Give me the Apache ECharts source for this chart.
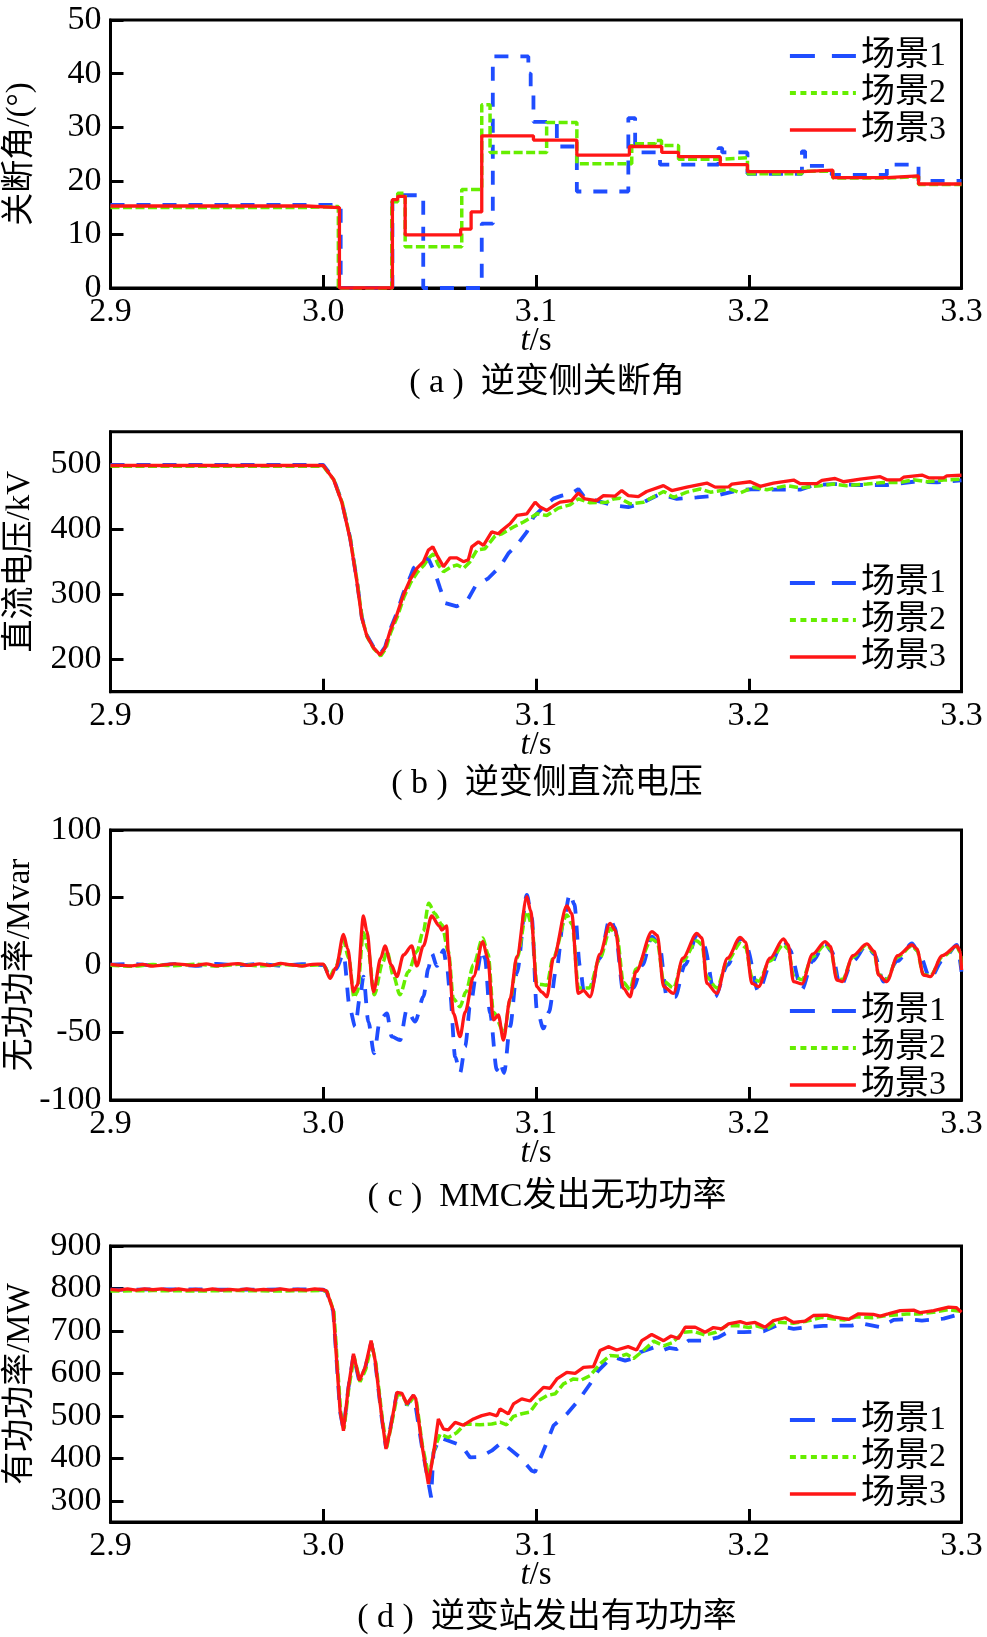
<!DOCTYPE html>
<html><head><meta charset="utf-8">
<script src="https://cdn.jsdelivr.net/npm/echarts@6/dist/echarts.min.js"></script>
<style>html,body{margin:0;padding:0;background:#fff}#c{width:987px;height:1637px}</style>
</head><body><div id="c"></div>
<script>
// ---------- DATA ----------
const seriesNames = ['场景1', '场景2', '场景3'];
const xTicks = [2.9, 3.0, 3.1, 3.2, 3.3];
const captions = ['(\u2005a\u2005)\u2002逆变侧关断角', '(\u2005b\u2005)\u2002逆变侧直流电压', '(\u2005c\u2005)\u2002MMC发出无功功率', '(\u2005d\u2005)\u2002逆变站发出有功功率'];
const yNames = ['关断角/(°)', '直流电压/kV', '无功功率/Mvar', '有功功率/MW'];
const yTicksB = [200, 300, 400, 500];
const yTicksD = [300, 400, 500, 600, 700, 800, 900];

// (a) extinction angle, step changes [t, value held from t]
const angle1 = [[2.9,15.5],[3.0082,0],[3.0325,16.3],[3.035,17.3],[3.047,0],[3.0745,12],[3.0797,43.2],[3.0964,40],[3.0975,36],[3.0988,31],[3.1098,26.4],[3.1192,18.0],[3.1434,31.7],[3.1466,25.3],[3.1583,23.0],[3.1858,26.1],[3.1875,25.3],[3.1994,21.3],[3.225,25.5],[3.2265,22.8],[3.239,21.1],[3.2649,23.0],[3.2798,20.0],[3.3,20.0]];
const angle2 = [[2.9,15.0],[2.99,15.2],[3.0071,-0.2],[3.0322,16.1],[3.035,17.7],[3.0385,7.7],[3.0651,18.4],[3.0745,34.2],[3.0784,25.3],[3.105,30.9],[3.1192,23.2],[3.145,26.9],[3.156,27.5],[3.159,26.6],[3.167,24.0],[3.1866,24.3],[3.1994,21.3],[3.225,21.8],[3.2395,20.5],[3.2649,20.8],[3.2798,19.3],[3.3,19.3]];
const angle3 = [[2.9,15.3],[2.992,15.0],[3.0076,0],[3.0325,16.5],[3.035,17.1],[3.0385,9.9],[3.0646,11.0],[3.0695,14.2],[3.0745,28.4],[3.0988,27.6],[3.1192,24.8],[3.1439,26.4],[3.1591,25.3],[3.167,24.5],[3.1866,23.0],[3.1994,21.7],[3.225,22.0],[3.2395,20.6],[3.2649,20.9],[3.2798,19.4],[3.3,19.4]];

// (b) DC voltage, kV
const vdc1 = [[2.9,499],[3.0,499],[3.0009,498],[3.0048,478],[3.0087,443],[3.0126,387],[3.0158,321],[3.0181,265],[3.0205,237],[3.0236,219],[3.0267,208],[3.0291,219],[3.0314,245],[3.0346,271],[3.0377,302],[3.0408,326],[3.0424,339.8],[3.0471,352.5],[3.0494,355],[3.0526,332],[3.0549,309.3],[3.0573,286.4],[3.0628,281.3],[3.0675,289],[3.0714,311.8],[3.0776,324.5],[3.0831,342.4],[3.087,362.7],[3.091,375.5],[3.0957,395.8],[3.0988,418.7],[3.1043,436.5],[3.1082,447],[3.1121,451.7],[3.1168,455],[3.1199,461.9],[3.123,448],[3.1285,444],[3.1364,436.5],[3.1434,434],[3.149,439],[3.1583,454],[3.1662,446.6],[3.1756,449],[3.185,451.7],[3.1944,459.4],[3.2022,461.8],[3.21,460.8],[3.2242,460.8],[3.2305,468],[3.2398,469.5],[3.25,468],[3.2649,468],[3.2774,473],[3.2885,472],[3.3,475]];
const vdc2 = [[2.9,497],[3.0,497],[3.0009,497],[3.005,476],[3.009,440],[3.0128,384],[3.016,318],[3.0183,262],[3.0207,234],[3.0238,216],[3.027,205],[3.0294,216],[3.0317,241],[3.0349,266],[3.038,296],[3.0411,318],[3.0443,334],[3.0474,345],[3.0497,356],[3.0518,362],[3.0541,345],[3.0565,334.7],[3.0604,342.4],[3.063,345],[3.0659,339.8],[3.069,350],[3.0722,367.8],[3.076,370],[3.0808,389.7],[3.084,393],[3.0894,403.4],[3.0941,411],[3.0972,417.1],[3.1004,423.7],[3.1051,421],[3.1105,432.4],[3.116,437.5],[3.1199,446.6],[3.1254,440.7],[3.1333,441.6],[3.1364,446.6],[3.1395,447.5],[3.1443,439],[3.1505,441.6],[3.16,458],[3.1646,449],[3.1709,457],[3.1772,461.8],[3.182,457],[3.1913,461.8],[3.196,455.8],[3.2022,464.4],[3.2085,460.8],[3.2179,467],[3.2242,463.6],[3.2336,467],[3.2398,469.5],[3.2461,467],[3.2555,469.5],[3.2633,472],[3.2712,472],[3.2774,476],[3.284,473],[3.2916,475.6],[3.3,477]];
const vdc3 = [[2.9,498],[2.95,498],[3.0,498],[3.0009,497.6],[3.0048,477],[3.0087,441.6],[3.0126,385.6],[3.0158,319.5],[3.0181,263.5],[3.0205,235.6],[3.0236,217.7],[3.0267,206.5],[3.0291,217.7],[3.0314,243.2],[3.0346,268.6],[3.0377,299.1],[3.0408,322],[3.044,339.8],[3.0471,350],[3.0494,367.8],[3.0515,372.9],[3.0534,360.2],[3.0565,342.4],[3.0596,356],[3.0628,356],[3.0659,350],[3.0682,353],[3.0698,372.9],[3.0729,380.5],[3.0753,375],[3.0792,395.8],[3.0823,393],[3.0839,398],[3.0878,408.4],[3.091,421.2],[3.0957,423.7],[3.0996,441.6],[3.1019,434],[3.1051,428.9],[3.1082,436],[3.1113,441.6],[3.1168,444],[3.1199,455.8],[3.123,446.6],[3.1285,444],[3.1317,451.7],[3.1372,451],[3.1403,459.4],[3.1434,451.7],[3.1481,450],[3.152,458],[3.1599,467],[3.1638,459.5],[3.1709,464.7],[3.1803,471],[3.1842,464.7],[3.1905,465],[3.1921,469.5],[3.2007,473],[3.2054,466],[3.2116,471],[3.2211,475.6],[3.2242,470],[3.232,470],[3.2344,475],[3.2406,478],[3.2446,473],[3.2524,477],[3.2618,480.8],[3.2649,476],[3.2712,476],[3.2728,480],[3.2814,483.3],[3.2845,479],[3.2916,479],[3.2931,482],[3.3,483]];

// (c) MMC reactive power, Mvar
const qmmc1 = [[2.9,0.3],[2.91,0.8],[2.92,-0.4],[2.93,0.6],[2.94,-0.7],[2.95,0.9],[2.96,-0.2],[2.97,0.7],[2.98,-0.5],[2.99,0.6],[3.0,0],[3.0032,-8],[3.006,-3],[3.0095,8],[3.0126,-33],[3.015,-45.7],[3.0173,-23.5],[3.0189,-8.6],[3.0212,-42],[3.0239,-65.4],[3.0267,-40.7],[3.0299,-35.8],[3.0322,-53.1],[3.0361,-55.6],[3.0393,-33],[3.0432,-42],[3.0471,-23.5],[3.0494,-2.5],[3.051,8.6],[3.0534,-0.7],[3.0565,11],[3.0581,-1],[3.0596,-21],[3.062,-68],[3.0643,-80],[3.0667,-60.5],[3.069,-31],[3.0722,-5],[3.0745,11],[3.076,5],[3.0784,-35.8],[3.0816,-77.8],[3.083,-72],[3.085,-80],[3.0878,-45.7],[3.091,-6],[3.0957,51.9],[3.098,35],[3.1004,-33],[3.1035,-47],[3.106,-35],[3.1098,-1.2],[3.1129,33],[3.116,53],[3.118,45],[3.1207,-1.2],[3.1225,-20],[3.1254,-20],[3.13,5],[3.1348,34.6],[3.137,28],[3.1411,-20],[3.1458,-17],[3.15,0],[3.1545,21],[3.158,15],[3.1615,-23.5],[3.1654,-23.5],[3.17,0],[3.1756,21],[3.179,14],[3.1842,-23.5],[3.19,0],[3.196,19.3],[3.199,13],[3.2046,-19.8],[3.21,0],[3.2163,18.5],[3.219,12],[3.225,-18],[3.23,3],[3.2359,16],[3.239,10],[3.243,-16],[3.249,3],[3.2555,14.8],[3.259,8],[3.2633,-12.3],[3.27,3],[3.2767,16],[3.28,9],[3.2853,-9.9],[3.291,3],[3.2978,14.8],[3.3,-5]];
const qmmc2 = [[2.9,-0.2],[2.91,-0.9],[2.92,0.3],[2.93,-0.5],[2.94,0.6],[2.95,-0.8],[2.96,0.5],[2.97,-0.6],[2.98,0.4],[2.99,-0.5],[3.0,0.2],[3.0032,-8],[3.006,-1],[3.0095,18],[3.012,5],[3.0145,-24],[3.016,-20],[3.0189,24],[3.021,12],[3.024,-22],[3.028,2],[3.03,10],[3.033,-8],[3.036,-22],[3.04,-5],[3.044,10],[3.047,25],[3.0496,45.7],[3.0525,38],[3.0557,30],[3.0588,10],[3.0612,-25],[3.0643,-30.9],[3.067,-20],[3.0706,0],[3.075,20],[3.0775,8],[3.08,-35],[3.085,-50],[3.088,-25],[3.091,5],[3.0957,39.5],[3.098,30],[3.1004,-14],[3.105,-15],[3.108,5],[3.1145,37],[3.117,30],[3.12,-17],[3.125,-17],[3.13,5],[3.135,27],[3.138,22],[3.1411,-13],[3.1442,-18],[3.147,-3],[3.1545,19],[3.157,17],[3.16,-12],[3.1646,-17],[3.169,3],[3.1756,18],[3.178,15],[3.1803,-9],[3.185,-17],[3.19,3],[3.196,16],[3.1985,13],[3.2015,-9],[3.2046,-12],[3.21,3],[3.2163,15],[3.2185,12],[3.221,-8],[3.225,-11],[3.23,6],[3.2359,15],[3.2383,12],[3.2414,-9],[3.244,-11],[3.249,6],[3.2555,15],[3.259,9],[3.261,-7],[3.2649,-11],[3.27,6],[3.2767,14],[3.279,11],[3.2821,-7],[3.2853,-8],[3.291,6],[3.2978,13.5],[3.2995,9],[3.3,-3]];
const qmmc3 = [[2.9,0.5],[2.91,-0.6],[2.915,0.4],[2.92,-0.8],[2.93,0.9],[2.94,-0.4],[2.945,0.8],[2.95,-0.6],[2.96,1.0],[2.965,-0.3],[2.97,0.9],[2.975,-0.4],[2.98,1.2],[2.985,0.2],[2.99,-0.8],[2.995,0.5],[3.0,0.7],[3.0032,-9.9],[3.006,-2],[3.0095,22.7],[3.0115,12],[3.0142,-19.8],[3.016,-15],[3.0189,36.3],[3.0205,25],[3.0236,-19.8],[3.027,5],[3.029,14.1],[3.032,0],[3.0346,-8.6],[3.0377,7.4],[3.0416,14.1],[3.044,-0.7],[3.047,14],[3.051,36.3],[3.0545,29],[3.0557,25.9],[3.058,29],[3.0588,8.6],[3.0612,-35.8],[3.0643,-53.1],[3.0667,-35],[3.0706,-8.6],[3.075,17.3],[3.0773,5],[3.08,-40.7],[3.0823,-37],[3.0847,-55.6],[3.0878,-25],[3.091,6.2],[3.0957,50.6],[3.0975,40],[3.1004,-16],[3.1027,-20],[3.1051,-23.5],[3.1082,5],[3.1145,43.7],[3.1168,38],[3.1199,-21],[3.1223,-19],[3.1254,-23.5],[3.13,8],[3.1348,30.9],[3.1372,26],[3.1411,-17.3],[3.1442,-23.5],[3.147,-5],[3.1545,24.7],[3.157,22],[3.16,-16],[3.1646,-21],[3.169,5],[3.1756,23.5],[3.178,20],[3.1803,-13.6],[3.185,-21],[3.19,5],[3.196,20.5],[3.1985,17],[3.2015,-13.6],[3.2046,-16],[3.21,5],[3.2163,19.3],[3.2185,15],[3.221,-12.3],[3.225,-14],[3.23,8],[3.2359,17.3],[3.2383,14],[3.2414,-11.1],[3.244,-12.3],[3.249,7],[3.2555,15.6],[3.259,10],[3.261,-7.4],[3.2649,-12.3],[3.27,7],[3.2767,14.8],[3.279,12],[3.2821,-7.4],[3.2853,-8.6],[3.291,7],[3.2978,14.1],[3.2995,10],[3.3,-3.7]];

// (d) inverter active power, MW
const pinv1 = [[2.9,797],[2.93,798],[2.96,797],[2.99,798],[3.0,797],[3.0016,792],[3.0047,746],[3.0063,628],[3.0079,510],[3.0095,468],[3.0118,565],[3.0142,643],[3.017,580],[3.0197,612],[3.0225,672],[3.0244,628],[3.0275,495],[3.0295,425],[3.0314,468],[3.0346,553],[3.037,550],[3.0393,525],[3.0424,548],[3.0435,520],[3.0463,430],[3.0507,308],[3.0518,414],[3.0549,449],[3.0579,443],[3.0651,429.7],[3.069,402],[3.0737,403],[3.0792,418],[3.0839,437.5],[3.0925,402],[3.098,370.8],[3.0996,368],[3.1019,398.3],[3.1051,437.5],[3.1082,476.9],[3.1145,504.5],[3.1199,535.8],[3.1254,575],[3.1293,606.6],[3.1348,634.2],[3.138,636],[3.1419,630],[3.146,636],[3.149,649.8],[3.1553,661],[3.1592,653],[3.1625,660],[3.1662,657],[3.1716,677],[3.1795,677],[3.1857,685],[3.19,697],[3.1975,697],[3.202,698],[3.2069,699],[3.213,712.7],[3.2211,705],[3.2273,709],[3.235,712],[3.2485,712.7],[3.253,718],[3.262,709],[3.2681,726],[3.275,728],[3.2814,724.5],[3.2916,729],[3.2995,740],[3.3,737]];
const pinv2 = [[2.9,794],[2.92,795],[2.94,794],[2.96,795],[2.98,794],[3.0,795],[3.0018,793],[3.005,745],[3.0066,625],[3.0082,508],[3.0098,470],[3.012,565],[3.0145,640],[3.0173,580],[3.02,610],[3.0228,670],[3.0247,625],[3.0278,492],[3.0298,425],[3.0317,470],[3.0349,552],[3.0373,548],[3.0396,525],[3.0427,545],[3.0438,535],[3.0466,430],[3.0497,355],[3.0521,420],[3.0549,457],[3.0588,449],[3.0627,460],[3.0667,480.9],[3.0737,479],[3.0792,481],[3.0831,485],[3.0862,479],[3.0894,498.6],[3.0933,505],[3.0972,509],[3.1011,535.8],[3.1051,547.6],[3.109,552],[3.1129,575.2],[3.1176,587],[3.1215,585],[3.1254,594.8],[3.1301,622.4],[3.1348,642],[3.1395,640],[3.1426,645],[3.1458,635],[3.1505,653.8],[3.1553,676],[3.16,665],[3.164,672],[3.1693,697],[3.174,699],[3.1795,690],[3.1845,697],[3.1898,712.7],[3.195,712],[3.2,708],[3.2035,712],[3.2085,705],[3.213,720.6],[3.221,718],[3.2273,723],[3.2343,732],[3.2398,728],[3.245,726],[3.2508,733],[3.258,731],[3.265,736],[3.2743,740],[3.28,740],[3.2869,744],[3.2939,750],[3.3,746]];
const pinv3 = [[2.9,798],[2.904,796],[2.908,799],[2.912,796],[2.916,799],[2.92,797],[2.924,799],[2.928,796],[2.932,799],[2.936,796],[2.94,798],[2.944,796],[2.948,799],[2.952,796],[2.956,798],[2.96,796],[2.964,799],[2.968,796],[2.972,798],[2.976,796],[2.98,799],[2.984,796],[2.988,798],[2.992,796],[2.996,799],[3.0,797],[3.0016,793.7],[3.0047,748],[3.0063,630],[3.0079,512],[3.0095,465],[3.0118,567],[3.0142,646],[3.017,583],[3.0197,614],[3.0225,677],[3.0244,630],[3.0275,496.5],[3.0295,422],[3.0314,465],[3.0346,555.4],[3.037,553],[3.0393,528],[3.0424,549],[3.0435,540],[3.0463,434],[3.0494,339.4],[3.0518,410],[3.0541,492.7],[3.0565,469],[3.0588,467],[3.062,484.7],[3.0659,478],[3.0706,492.7],[3.0745,500.5],[3.0784,505],[3.0816,500],[3.0831,516.3],[3.087,504.5],[3.0894,528],[3.0933,540],[3.0972,535],[3.1004,551.6],[3.1035,567],[3.1066,565],[3.1098,587],[3.1145,602.6],[3.1184,600],[3.1223,614],[3.127,616],[3.1301,653.8],[3.134,663],[3.1379,655],[3.1433,663],[3.1473,655],[3.1497,677],[3.1528,686.8],[3.1544,691.5],[3.16,677],[3.1635,688],[3.1669,682],[3.1701,708.7],[3.1748,709],[3.1795,697],[3.1834,708],[3.1873,705],[3.1905,716.7],[3.196,722],[3.1991,717],[3.203,720],[3.2077,708.7],[3.2116,724.5],[3.2171,731],[3.221,720],[3.2265,723],[3.2304,736.3],[3.2367,737],[3.2398,733],[3.2469,727],[3.2516,740.3],[3.2585,739],[3.2618,735],[3.2655,740],[3.2712,748],[3.2775,749],[3.2806,743],[3.2869,748],[3.2939,756],[3.2975,755],[3.3,744]];

// ---------- LAYOUT / STYLE ----------
const FONT = "'Liberation Serif', 'Noto Sans CJK SC', serif";
const GL = 110.5, GW = 851;
const grids = [[20, 268], [431.7, 260], [830, 270], [1246, 276]];
const yCfg = [
  {min: 0, max: 50, interval: 10},
  {min: 150, max: 550, interval: 50, custom: yTicksB},
  {min: -100, max: 100, interval: 50},
  {min: 250, max: 900, interval: 50, custom: yTicksD}
];
const legendTops = [39, 566, 994, 1403];
const captionY = [383, 784, 1197, 1618];
const COLORS = ['#1f4dff', '#66ee00', '#ff1616'];
const DASH = [[14, 12], [9, 3.5], 'solid'];
const WIDTHS = [3.8, 3.5, 3.3];
const SMOOTH = [false, false, 0.3, false];

const panels = [[angle1, angle2, angle3], [vdc1, vdc2, vdc3], [qmmc1, qmmc2, qmmc3], [pinv1, pinv2, pinv3]];

const option = {
  animation: false,
  backgroundColor: '#fff',
  grid: grids.map(g => ({left: GL, top: g[0], width: GW, height: g[1], show: true, borderColor: '#000', borderWidth: 3, backgroundColor: '#fff', containLabel: false, outerBoundsMode: 'none'})),
  xAxis: grids.map((g, i) => ({
    type: 'value', gridIndex: i, min: 2.9, max: 3.3, interval: 0.1,
    name: '{i|t}/s', nameLocation: 'middle', nameGap: 37, nameMoveOverlap: false,
    nameTextStyle: {fontFamily: FONT, fontSize: 33, color: '#000', rich: {i: {fontFamily: FONT, fontSize: 33, fontStyle: 'italic', color: '#000'}}},
    axisLine: {onZero: false, lineStyle: {color: '#000', width: 3}},
    axisTick: {inside: true, length: 13, lineStyle: {color: '#000', width: 3}},
    axisLabel: {margin: 7, fontFamily: FONT, fontSize: 34, color: '#000', showMinLabel: true, showMaxLabel: true, hideOverlap: false, formatter: v => v.toFixed(1)},
    splitLine: {show: false}
  })),
  yAxis: yCfg.map((c, i) => {
    const ax = {
      type: 'value', gridIndex: i, min: c.min, max: c.max, interval: c.interval,
      name: yNames[i], nameLocation: 'middle', nameGap: 74, nameMoveOverlap: false,
      nameTextStyle: {fontFamily: FONT, fontSize: 33, color: '#000'},
      axisLine: {onZero: false, lineStyle: {color: '#000', width: 3}},
      axisTick: {inside: true, length: 13, lineStyle: {color: '#000', width: 3}},
      axisLabel: {margin: 9, fontFamily: FONT, fontSize: 34, color: '#000', showMinLabel: true, showMaxLabel: true, hideOverlap: false},
      splitLine: {show: false}
    };
    if (c.custom) { ax.axisLabel.customValues = c.custom; ax.axisTick.customValues = c.custom; }
    return ax;
  }),
  legend: legendTops.map(t => ({
    orient: 'vertical', left: 788, top: t, padding: 0, itemWidth: 66, itemHeight: 14, itemGap: 3,
    textStyle: {fontFamily: FONT, fontSize: 34, color: '#000'},
    itemStyle: {opacity: 0},
    selectedMode: false,
    data: [
      {name: seriesNames[0], itemStyle: {opacity: 0}, lineStyle: {type: [25, 17], width: 3.8, opacity: 1}},
      {name: seriesNames[1], itemStyle: {opacity: 0}, lineStyle: {type: [6, 4.5], width: 3.8, opacity: 1}},
      {name: seriesNames[2], itemStyle: {opacity: 0}, lineStyle: {width: 3.5, opacity: 1}}
    ]
  })),
  graphic: captions.map((txt, i) => ({
    type: 'text', x: 547, y: captionY[i],
    style: {text: txt, font: "34px 'Liberation Serif', 'Noto Sans CJK SC', serif", fill: '#000', align: 'center', verticalAlign: 'middle'}
  })),
  series: []
};

panels.forEach((sets, p) => {
  sets.forEach((d, k) => {
    option.series.push({
      name: seriesNames[k], type: 'line', xAxisIndex: p, yAxisIndex: p,
      data: d, symbol: 'none', showSymbol: false, step: p === 0 ? 'end' : false,
      smooth: SMOOTH[p], smoothMonotone: 'x',
      lineStyle: {color: COLORS[k], width: WIDTHS[k], type: DASH[k]},
      itemStyle: {color: COLORS[k]}, z: 2 + k, clip: true
    });
  });
});

const chart = echarts.init(document.getElementById('c'));
chart.setOption(option);
</script>
</body></html>
